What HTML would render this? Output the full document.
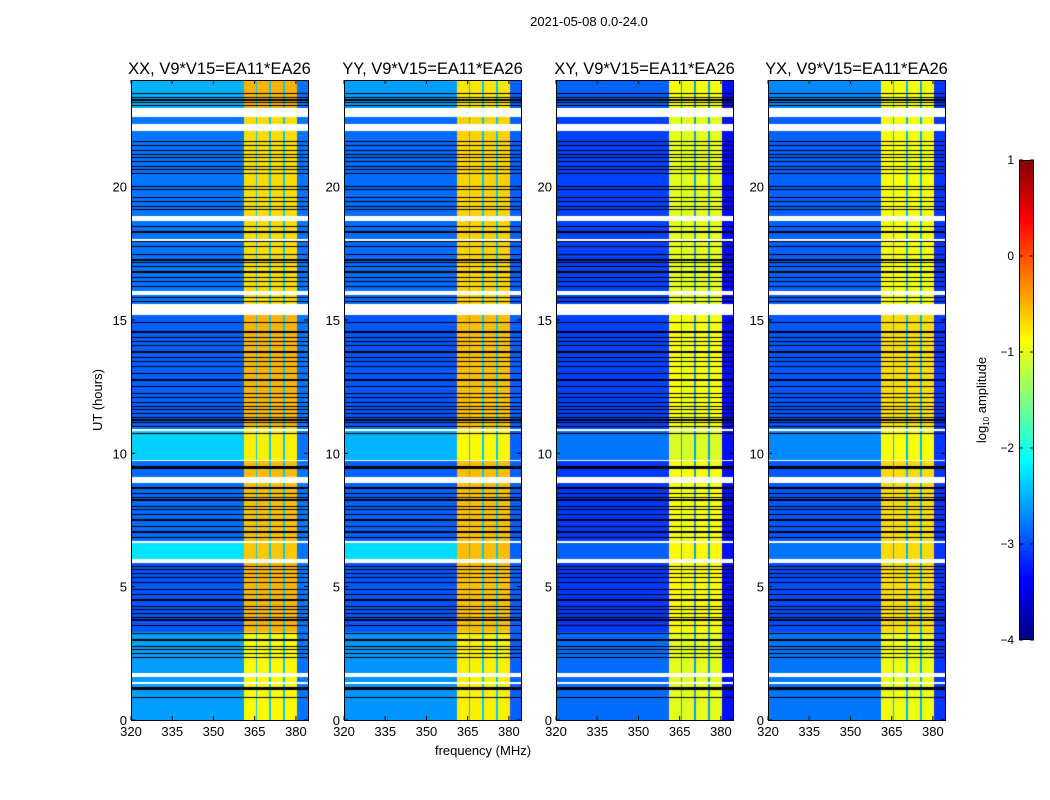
<!DOCTYPE html>
<html><head><meta charset="utf-8">
<style>
body{margin:0;background:#fff;}
#wrap{position:relative;width:1050px;height:800px;overflow:hidden;background:#fff;font-family:"Liberation Sans",sans-serif;}
canvas{position:absolute;}
svg{position:absolute;left:0;top:0;}
</style></head>
<body>
<div id="wrap">
<svg id="ax" width="1050" height="800"></svg>
</div>
<script>
// ---- data ----
const panelTitles = ["XX, V9*V15=EA11*EA26","YY, V9*V15=EA11*EA26","XY, V9*V15=EA11*EA26","YX, V9*V15=EA11*EA26"];
const xTicks = [320,335,350,365,380];
const yTicks = [0,5,10,15,20];
const cbTicks = [-4,-3,-2,-1,0,1];
// frequency channel groups: [start MHz, end MHz, kind]
const chanStart = [320,361,365.3,366.0,370.3,371.0,375.4,376.0,380.4];
const chanEnd   = [361,365.3,366.0,370.3,371.0,375.4,376.0,380.4,384.4];
const chanKind  = ["L","B","S","B","S","B","S","B","R"];
// flagged (white) time ranges, hours
const whiteStart = [22.6,22.1,18.7,17.98,15.95,15.2,10.85,9.7,8.9,6.65,5.9,1.6,1.35];
const whiteEnd   = [22.95,22.35,18.9,18.04,16.1,15.6,10.92,9.76,9.1,6.72,6.05,1.75,1.42];
// low-amplitude (black) time rows, hours
const blackRows = [23.48,23.36,23.25,23.14,23.03,21.68,21.56,21.34,21.19,21.08,20.93,20.74,20.63,20.51,
 19.99,19.88,19.61,19.43,19.24,19.13,18.49,18.30,17.93,17.74,17.44,17.25,17.14,16.99,16.80,16.61,16.43,16.24,
 15.86,15.68,14.89,14.55,14.36,14.18,14.06,13.80,13.61,13.43,13.24,13.01,12.75,12.49,12.26,12.08,11.89,
 11.74,11.63,11.51,11.36,11.25,11.14,10.99,10.76,9.49,9.45,8.70,8.51,8.36,8.25,7.99,7.88,7.69,7.50,7.24,7.05,6.86,
 5.74,5.63,5.51,5.33,5.14,4.88,4.69,4.50,4.24,4.13,4.01,3.86,3.75,3.56,3.26,3.00,2.74,2.63,2.51,2.33,1.20,1.16,0.83];
// time segments
const segStart = [22.95,16.1,11.0,9.7,6.7,5.9,3.3,0];
const segEnd   = [24,22.6,15.2,10.85,9.7,6.65,5.9,3.3];
// log10 amplitude levels per panel per segment: off-band (left), in-band
const leftLevel = [
 [-2.5,-2.8,-2.9,-2.35,-2.85,-2.25,-2.95,-2.6],
 [-2.6,-2.85,-2.95,-2.5,-2.9,-2.3,-2.95,-2.65],
 [-2.9,-3.05,-3.05,-2.8,-3.1,-2.9,-3.1,-2.85],
 [-2.7,-2.9,-2.95,-2.7,-2.95,-2.8,-3.0,-2.8]];
const bandLevel = [
 [-0.5,-0.7,-0.5,-0.8,-0.55,-0.6,-0.5,-0.85],
 [-0.75,-0.65,-0.55,-0.85,-0.55,-0.55,-0.55,-0.8],
 [-0.9,-1.0,-0.9,-1.05,-0.9,-0.85,-0.85,-1.0],
 [-0.9,-0.9,-0.7,-0.9,-0.7,-0.7,-0.7,-0.95]];
const sepLevel = [-2.4,-2.4,-2.6,-2.5];
const rightLevel = [-2.8,-2.9,-3.3,-3.1];

// ---- layout ----
const panelX = [131,344,556,768];
const PW = 177, PT = 80, PB = 720;
const fMin = 320, fMax = 384.4, hMin = 0, hMax = 24;
function xs(p,f){return panelX[p] + (f-fMin)/(fMax-fMin)*PW;}
function ys(h){return PB - (h-hMin)/(hMax-hMin)*(PB-PT);}

function jet(v){
  let t=(v+4)/5; t=Math.max(0,Math.min(1,t));
  const c=x=>Math.max(0,Math.min(1,x));
  const r=c(1.5-Math.abs(4*t-3)), g=c(1.5-Math.abs(4*t-2)), b=c(1.5-Math.abs(4*t-1));
  return `rgb(${Math.round(r*255)},${Math.round(g*255)},${Math.round(b*255)})`;
}

const wrap=document.getElementById('wrap');
const svg=document.getElementById('ax');
const NS="http://www.w3.org/2000/svg";
function mk(tag,attrs,text){const e=document.createElementNS(NS,tag);for(const k in attrs)e.setAttribute(k,attrs[k]);if(text!==undefined)e.textContent=text;svg.appendChild(e);return e;}

for(let p=0;p<4;p++){
  const cv=document.createElement('canvas');
  
  
  cv.width=PW;cv.height=PB-PT;cv.style.left=panelX[p]+'px';cv.style.top=PT+'px';
  wrap.insertBefore(cv,svg);
  const ctx=cv.getContext('2d');
  ctx.fillStyle='#fff';ctx.fillRect(0,0,PW,PB-PT);
  for(let py=0;py<PB-PT;py++){
    const h=hMax-(py+0.5)/(PB-PT)*(hMax-hMin);
    let white=false;
    for(let i=0;i<whiteStart.length;i++) if(h>=whiteStart[i]&&h<=whiteEnd[i]) white=true;
    if(white) continue;
    let black=false;
    for(const b of blackRows) if(Math.abs(h-b)<0.02) black=true;
    if(black){ctx.fillStyle='#000';ctx.fillRect(0,py,PW,1);continue;}
    let s=-1;
    for(let i=0;i<segStart.length;i++) if(h>=segStart[i]&&h<segEnd[i]) s=i;
    if(s<0) s=1;
    for(let c=0;c<chanStart.length;c++){
      let v;
      const k=chanKind[c];
      if(k==="L") v=leftLevel[p][s];
      else if(k==="B") v=bandLevel[p][s];
      else if(k==="S") v=sepLevel[p];
      else v=rightLevel[p];
      const x0=xs(p,chanStart[c])-panelX[p], x1=xs(p,chanEnd[c])-panelX[p];
      ctx.fillStyle=jet(v);
      ctx.fillRect(Math.round(x0),py,Math.round(x1)-Math.round(x0),1);
    }
  }
  const fr=mk('rect',{x:panelX[p]+0.5,y:PT+0.5,width:PW,height:PB-PT,fill:'none',stroke:'#000','stroke-width':1});
  
  
  const tt=mk('text',{x:panelX[p]+PW/2,y:PT-6,'text-anchor':'middle','font-size':16.5,fill:'#000'},panelTitles[p]);
  
  
  for(const f of xTicks){
    const x=xs(p,f);
    mk('line',{x1:x,x2:x,y1:PB,y2:PB-4,stroke:'#000'});
    mk('line',{x1:x,x2:x,y1:PT,y2:PT+4,stroke:'#000'});
    const t=mk('text',{x:x,y:PB+16,'text-anchor':'middle','font-size':13,fill:'#000'},String(f));
    
    
  }
  for(const h of yTicks){
    const y=ys(h);
    mk('line',{x1:panelX[p],x2:panelX[p]+4,y1:y,y2:y,stroke:'#000'});
    mk('line',{x1:panelX[p]+PW,x2:panelX[p]+PW-4,y1:y,y2:y,stroke:'#000'});
    const t=mk('text',{x:panelX[p]-4,y:y+5,'text-anchor':'end','font-size':13,fill:'#000'},String(h));
    
    
  }
}
let e;
e=mk('text',{x:589,y:26,'text-anchor':'middle','font-size':13,fill:'#000'},"2021-05-08 0.0-24.0");


e=mk('text',{x:483,y:755,'text-anchor':'middle','font-size':13,fill:'#000'},"frequency (MHz)");


e=mk('text',{x:102,y:400,'text-anchor':'middle','font-size':13,fill:'#000',transform:'rotate(-90 102 400)'},"UT (hours)");



// colorbar
const CBX=1019,CBW=15,CBT=160,CBB=640;
const cb=document.createElement('canvas');


cb.width=CBW;cb.height=CBB-CBT;cb.style.left=CBX+'px';cb.style.top=CBT+'px';
wrap.insertBefore(cb,svg);
const cctx=cb.getContext('2d');
for(let py=0;py<CBB-CBT;py++){cctx.fillStyle=jet(1-(py+0.5)/(CBB-CBT)*5);cctx.fillRect(0,py,CBW,1);}
mk('rect',{x:CBX+0.5,y:CBT+0.5,width:CBW-1,height:CBB-CBT-1,fill:'none',stroke:'#000'});
for(const v of cbTicks){
  const y=CBB-(v+4)/5*(CBB-CBT);
  mk('line',{x1:CBX,x2:CBX+4,y1:y,y2:y,stroke:'#000'});
  mk('line',{x1:CBX+CBW,x2:CBX+CBW-4,y1:y,y2:y,stroke:'#000'});
  const t=mk('text',{x:1014,y:y+4,'text-anchor':'end','font-size':12,fill:'#000'},(v<0?'\u2212'+(-v):String(v)));
  
  
}
e=mk('text',{x:986,y:400,'text-anchor':'middle','font-size':13,fill:'#000',transform:'rotate(-90 986 400)'});
e.innerHTML='log<tspan font-size="8" dy="3">10</tspan><tspan dy="-3"> amplitude</tspan>';


</script>
</body></html>
